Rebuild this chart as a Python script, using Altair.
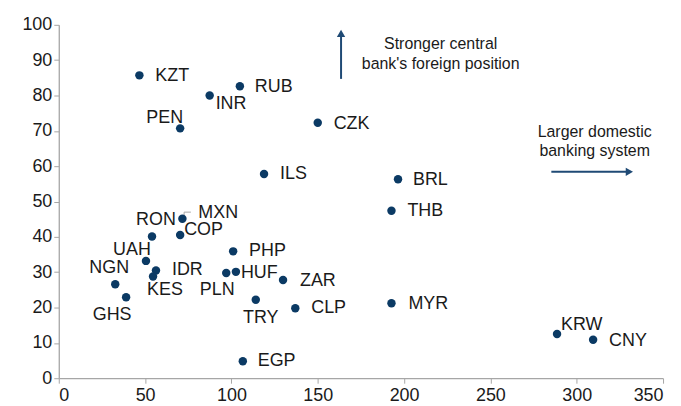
import altair as alt
import pandas as pd

# ---- data ----
currencies = ["KZT", "RUB", "INR", "PEN", "CZK", "ILS", "BRL", "THB", "MXN", "RON",
              "COP", "UAH", "IDR", "KES", "NGN", "GHS", "PHP", "PLN", "HUF", "ZAR",
              "TRY", "CLP", "MYR", "EGP", "KRW", "CNY"]
banking_system = [46.7, 104.9, 87.4, 70.3, 150.0, 118.9, 196.5, 192.7, 71.6, 54.0,
                  70.3, 50.5, 56.3, 54.6, 32.7, 39.0, 101.0, 97.0, 102.6, 129.9,
                  114.1, 137.0, 192.7, 106.6, 288.6, 309.5]
cb_foreign_position = [85.7, 82.6, 80.0, 70.7, 72.3, 57.8, 56.3, 47.4, 45.1, 40.1,
                       40.5, 33.2, 30.5, 28.8, 26.6, 22.9, 35.9, 29.8, 30.1, 27.8,
                       22.2, 19.8, 21.2, 4.8, 12.5, 10.9]

x_ticks = [0, 50, 100, 150, 200, 250, 300, 350]
y_ticks = [0, 10, 20, 30, 40, 50, 60, 70, 80, 90, 100]

note_up = ["Stronger central", "bank's foreign position"]
note_right = ["Larger domestic", "banking system"]

# ---- label placement (style only): align, dx, dy ----
label_style = {
    "KZT": ("left", 16, 1), "RUB": ("left", 15, 1), "INR": ("left", 6, 9),
    "PEN": ("right", 3, -10), "CZK": ("left", 16, 1), "ILS": ("left", 16, 0),
    "BRL": ("left", 15, 1), "THB": ("left", 16, 0), "MXN": ("left", 16, -6),
    "RON": ("center", 4, -17), "COP": ("left", 4, -5), "UAH": ("right", 5, -11),
    "IDR": ("left", 16, 0), "KES": ("left", -6, 14), "NGN": ("center", -6, -16),
    "GHS": ("center", -14, 18), "PHP": ("left", 16, 0), "PLN": ("center", -9, 17),
    "HUF": ("left", 5, 1), "ZAR": ("left", 17, 1), "TRY": ("center", 5, 18),
    "CLP": ("left", 16, 0), "MYR": ("left", 17, 1), "EGP": ("left", 15, 0),
    "KRW": ("left", 4, -9), "CNY": ("left", 16, 1),
}

df = pd.DataFrame({"ccy": currencies, "bank": banking_system, "cb": cb_foreign_position})

NAVY = "#0b3a64"
ARROW = "#1f4a75"
FONT = "Liberation Sans"

xs = alt.Scale(domain=[0, 350], nice=False, zero=True)
ys = alt.Scale(domain=[0, 100], nice=False, zero=True)
x_axis = alt.Axis(values=x_ticks, grid=False, labelPadding=3, labelOverlap=False,
                  tickCount=8)
y_axis = alt.Axis(values=y_ticks, grid=False, labelPadding=2, labelOverlap=False,
                  tickCount=11)


def X(field):
    return alt.X(field, type="quantitative", scale=xs, axis=x_axis, title=None)


def Y(field):
    return alt.Y(field, type="quantitative", scale=ys, axis=y_axis, title=None)


points = alt.Chart(df).mark_circle(size=72, color=NAVY, opacity=1).encode(
    x=X("bank"), y=Y("cb"))

label_layers = []
for c in currencies:
    a, dx, dy = label_style[c]
    label_layers.append(
        alt.Chart(df).transform_filter(alt.datum.ccy == c)
        .mark_text(align=a, baseline="middle", dx=dx, dy=dy, fontSize=18,
                   font=FONT, color="#1a1a1a")
        .encode(x=X("bank"), y=Y("cb"), text="ccy:N")
    )

# small leader line next to MXN (data units)
leader = pd.DataFrame({"bank": [72.6, 72.6], "cb": [47.0, 47.0],
                       "bank2": [76.5, 72.6], "cb2": [47.0, 46.0]})
leader_line = alt.Chart(leader).mark_rule(color="#a6a6a6", strokeWidth=1).encode(
    x=X("bank"), y=Y("cb"), x2="bank2:Q", y2="cb2:Q")

# annotations (positions in data units)
ann_lines = pd.DataFrame({
    "bank": [163.5, 285.3], "cb": [84.7, 58.4], "bank2": [163.5, 331.0], "cb2": [97.5, 58.4]
})
arrows = alt.Chart(ann_lines).mark_rule(color=ARROW, strokeWidth=2).encode(
    x=X("bank"), y=Y("cb"), x2="bank2:Q", y2="cb2:Q")

heads = pd.DataFrame({"bank": [163.5, 330.5], "cb": [97.6, 58.4],
                      "shape": ["triangle-up", "triangle-right"]})
arrow_heads = alt.Chart(heads).mark_point(filled=True, opacity=1, color=ARROW, size=70).encode(
    x=X("bank"), y=Y("cb"), shape=alt.Shape("shape:N", scale=None))

notes = pd.DataFrame({
    "bank": [221.2, 221.2, 310.4, 310.4],
    "cb": [94.7, 88.9, 69.7, 64.2],
    "t": note_up + note_right,
})
note_text = alt.Chart(notes).mark_text(fontSize=16, font=FONT, color="#1a1a1a",
                                       align="center", baseline="middle").encode(
    x=X("bank"), y=Y("cb"), text="t:N")

chart = alt.layer(leader_line, points, *label_layers, arrows, arrow_heads, note_text).properties(
    width=607, height=355,
    padding={"left": 51, "top": 16, "right": 10, "bottom": 27},
    autosize=alt.AutoSizeParams(type="none"),
).configure_axis(
    domainColor="#a6a6a6", tickColor="#a6a6a6", tickSize=5, domainWidth=1.3,
    labelFontSize=18, labelFont=FONT, labelColor="#1a1a1a",
).configure_view(stroke=None)

chart.save("out.html", embed_options={"renderer": "svg", "actions": False})
